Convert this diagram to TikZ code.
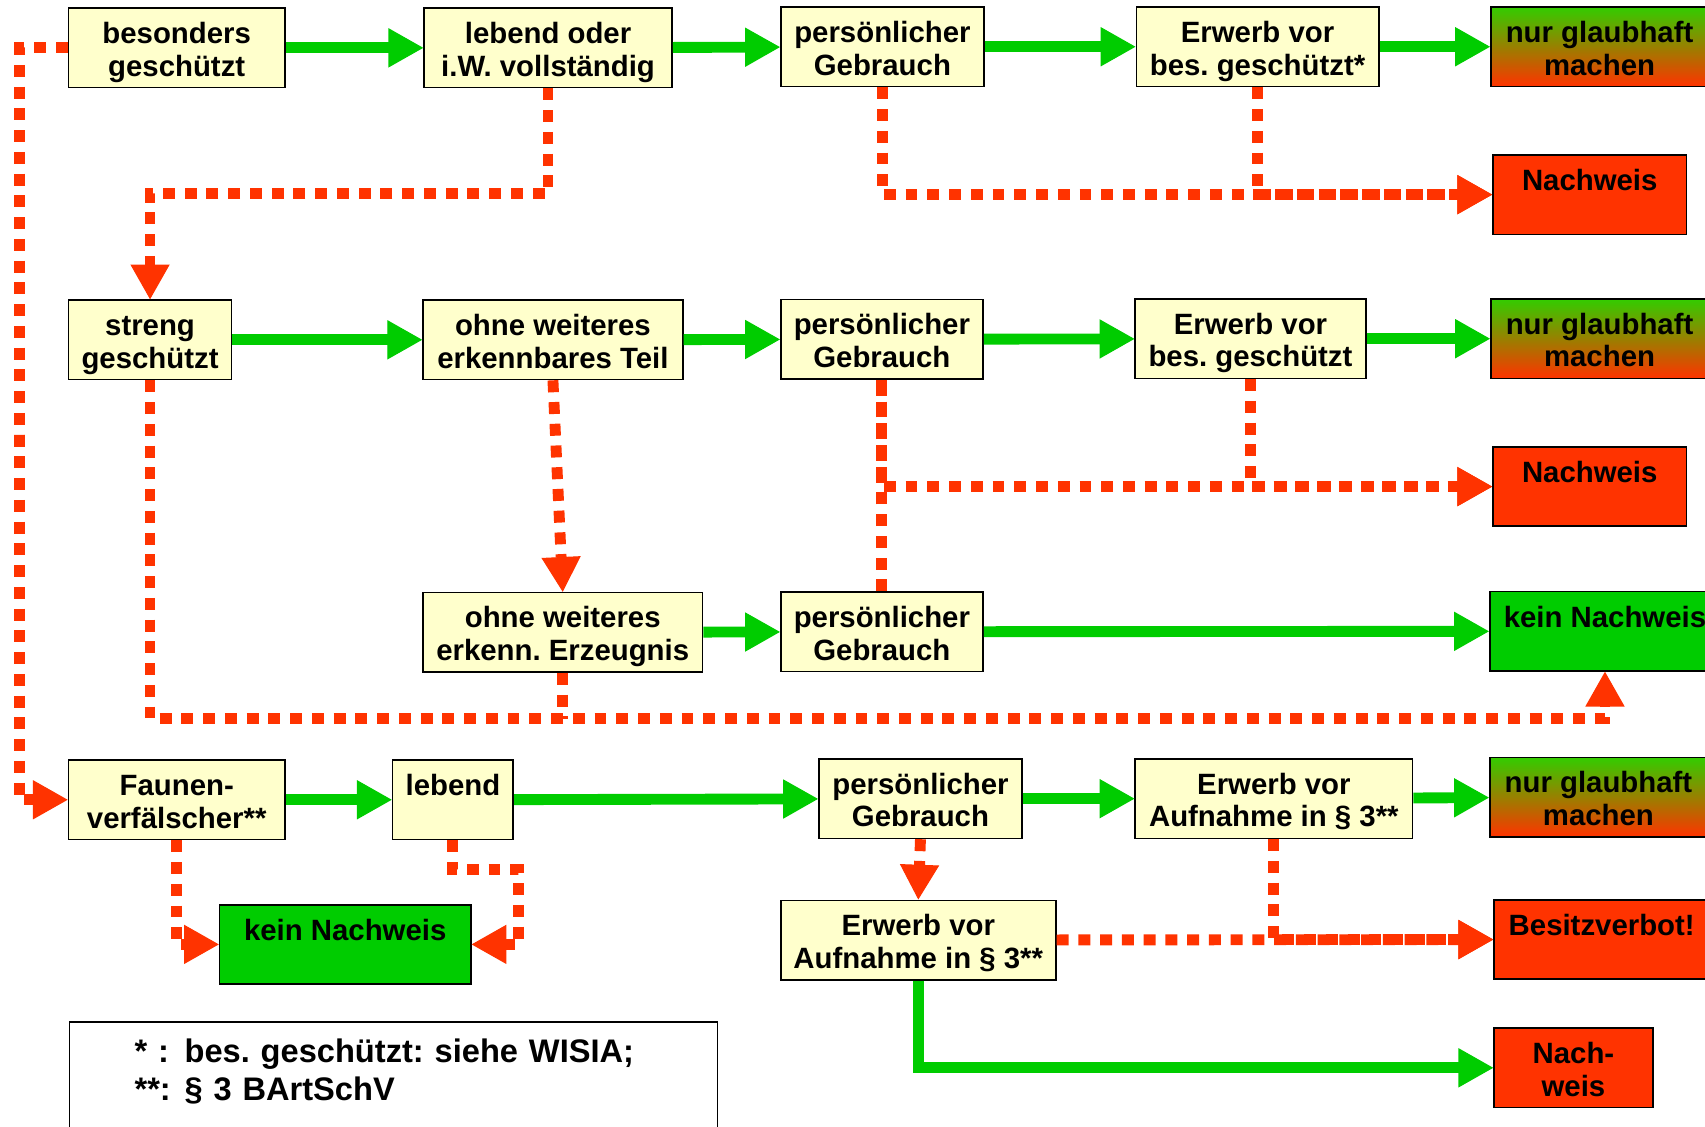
\documentclass[tikz,border=0pt]{standalone}
\usepackage{fontspec}
\setmainfont{Liberation Sans}
\usetikzlibrary{arrows.meta}
\definecolor{boxyellow}{HTML}{FFFFCC}
\definecolor{okgreen}{HTML}{00CC00}
\definecolor{topgreen}{HTML}{33CC00}
\definecolor{stopred}{HTML}{FF3300}
\frenchspacing

\begin{document}
\begin{tikzpicture}[x=1pt,y=-1pt,>={Triangle[length=32pt,width=36pt,line width=1pt]},
        font=\fontsize{27pt}{30pt}\selectfont\bfseries,
        base node/.style={draw,line width=1.5pt,align=center,inner sep=0pt,
            minimum height=73pt,text height=52pt,text depth=0pt},
        top text/.style={text height=20pt,text depth=27.5pt},
        yellow node/.style={base node,fill=boxyellow},
        red node/.style={base node,fill=stopred,top text},
        green node/.style={base node,fill=okgreen,top text},
        mixed node/.style={base node,top color=topgreen,bottom color=stopred},
        green arrow/.style={->,color=okgreen,line width=10pt},
        red arrow/.style={->,color=stopred,line width=10pt,dash pattern=on 11pt off 9pt},
        red line/.style={red arrow,-}]

    \useasboundingbox (0,0) rectangle (1568,1036);

    % first row
    \node[yellow node,minimum width=199pt] (1) at (162.5,44) {besonders\\geschützt};
    \node[yellow node,minimum width=228pt] (2) at (504,44) {lebend oder\\i.W. vollständig};
    \node[yellow node,minimum width=187pt] (3) at (811.5,43) {persönlicher\\Gebrauch};
    \node[yellow node,minimum width=223pt] (4) at (1156.5,43) {Erwerb vor\\bes. geschützt*};
    \node[mixed node,minimum width=200pt] (5) at (1471,43) {nur glaubhaft\\machen};
    \node[red node,minimum width=178pt] (6) at (1462,179) {Nachweis};

    % second row
    \node[yellow node,minimum width=150pt] (7) at (138,312.5) {streng\\geschützt};
    \node[yellow node,minimum width=239pt] (8) at (508.5,312.5) {ohne weiteres\\erkennbares Teil};
    \node[yellow node,minimum width=186pt] (9) at (811,312) {persönlicher\\Gebrauch};
    \node[yellow node,minimum width=212pt] (10) at (1150,311.5) {Erwerb vor\\bes. geschützt};
    \node[mixed node,minimum width=200pt] (11) at (1471,311.5) {nur glaubhaft\\machen};
    \node[red node,minimum width=178pt] (12) at (1462,447.5) {Nachweis};

    % third row
    \node[yellow node,minimum width=257pt] (13) at (517.5,581.5) {ohne weiteres\\erkenn. Erzeugnis};
    \node[yellow node,minimum width=186pt] (14) at (811,581) {persönlicher\\Gebrauch};
    \node[green node,minimum width=212pt] (15) at (1476,580.5) {kein Nachweis};

    % fourth row
    \node[yellow node,minimum width=199pt] (16) at (162.5,735.5) {Faunen-\\verfälscher**};
    \node[yellow node,top text,minimum width=111pt] (17) at (416.5,735.5) {lebend};
    \node[yellow node,minimum width=187pt] (18) at (846.5,734.5) {persönlicher\\Gebrauch};
    \node[yellow node,minimum width=255pt] (19) at (1171.5,734.5) {Erwerb vor\\Aufnahme in § 3**};
    \node[mixed node,minimum width=200pt] (20) at (1470,733) {nur glaubhaft\\machen};
    \node[green node,minimum width=231pt] (21) at (317.5,868.5) {kein Nachweis};
    \node[yellow node,minimum width=253pt] (22) at (844.5,864.5) {Erwerb vor\\Aufnahme in § 3**};
    \node[red node,minimum width=198pt] (23) at (1473,864) {Besitzverbot!};
    \node[base node,fill=stopred,minimum width=146pt] (24) at (1447,982) {Nach-\\weis};

    \node[draw,line width=1.5pt,anchor=north west,align=left,text width=476pt,
          inner xsep=60pt,inner ysep=16pt,text depth=50pt,
          font=\fontsize{30pt}{35pt}\selectfont\bfseries] (25) at (63,939)
        {\makebox[46pt][l]{* :}bes. geschützt: siehe WISIA;\\
         \makebox[46pt][l]{**:}§ 3 BArtSchV};

    \coordinate (lft) at (18,400);
    \coordinate (r1) at (0,178);
    \coordinate (r3) at (0,661);
    \coordinate (lb) at (477,800);

    \path[green arrow] (1) edge (2) (2) edge (3) (3) edge (4) (4) edge (5)
        (7) edge (8) (8) edge (9) (9) edge (10) (10) edge (11)
        (13) edge (14) (14) edge (15)
        (16) edge (17) (17) edge (18) (18) edge (19) (19) edge (20);
    \draw[green arrow] (22) |- (24);

    \draw[red arrow] (1.west) -| (lft) |- (16.west);
    \draw[red arrow] (2.south) -- (2.south |- r1) -| (7.north);
    \draw[red arrow] (3.south) |- (6.west);
    \draw[red arrow] (4.south) |- (6.west);
    \draw[red arrow] (8.south) -- (13.north);
    \draw[red line] (14.north) -- (9.south);
    \draw[red arrow] (9.south) |- (12.west);
    \draw[red arrow] (10.south) |- (12.west);
    \draw[red arrow] (7.south) -- (7.south |- r3) -| (15.south);
    \draw[red line] (13.south) -- (13.south |- r3);
    \draw[red arrow] (16.south) |- (21.west);
    \draw[red arrow] (17.south) |- (lb) |- (21.east);
    \draw[red arrow] (18.south) -- (22.north);
    \draw[red arrow] (19.south) |- (23.west);
    \draw[red arrow] (22) -- (23);
\end{tikzpicture}
\end{document}
